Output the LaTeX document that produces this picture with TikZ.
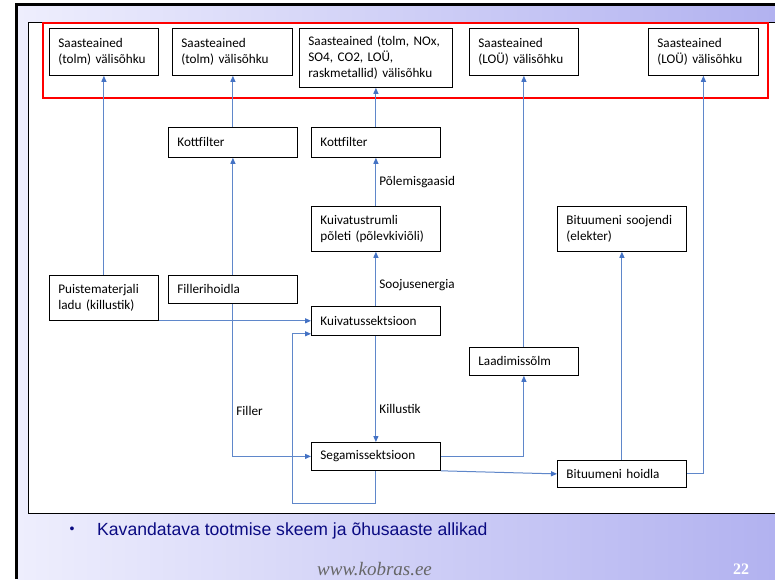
\documentclass[tikz,border=0pt]{standalone}
\usepackage{fontspec}
\setmainfont{Carlito}
\newfontfamily\slidefont{Liberation Sans}
\newfontfamily\webfont{Liberation Serif}
\usepackage{tikz}
\usetikzlibrary{arrows.meta, positioning}

\definecolor{flowblue}{RGB}{95,135,202}
\definecolor{tipblue}{RGB}{68,114,196}
\definecolor{titlenavy}{RGB}{10,10,130}
\definecolor{bgleft}{RGB}{238,238,253}
\definecolor{bgright}{RGB}{178,178,240}

\begin{document}
\begin{tikzpicture}[
		x=1pt, y=-1pt,
		unit/.style={
			rectangle,
			draw=black,
			line width=0.8pt,
			anchor=north west,
			inner xsep=9pt,
			inner ysep=0pt,
			align=left,
			font=\fontsize{13.2}{16}\selectfont
		},
		wide/.style={unit, text width=111pt},
		narrow/.style={unit, text width=91pt},
		flow/.style={
			flowblue,
			line width=1pt,
			-{Triangle[length=6pt, width=5pt, color=tipblue]},
		},
		flowtext/.style={
			right,
			inner sep=3pt,
			text=black,
			font=\fontsize{13.2}{16}\selectfont
		}
	]
	
	\useasboundingbox (0,0) rectangle (775,579);
	\fill[white] (0,0) rectangle (775,579);
	\shade[left color=bgleft, right color=bgright] (17,5) rectangle (775,579);
	\draw[line width=2.5pt] (16.5,579) -- (16.5,4.5) -- (775,4.5);
	\draw[fill=white, line width=0.7pt] (28,22) rectangle (777,513);
	\draw[red, line width=2pt] (43,23) rectangle (768,98);
	
	\node[narrow, minimum height=47pt] (src1) at (49,28) {Saasteained\\(tolm) välisõhku};
	\node[unit, text width=102pt, minimum height=47pt] (src2) at (172,28) {Saasteained\\(tolm) välisõhku};
	\node[unit, text width=135pt, minimum height=59pt] (src3) at (299,28) {Saasteained (tolm, NOx,\\SO4, CO2, LOÜ,\\raskmetallid) välisõhku};
	\node[narrow, minimum height=47pt] (src4) at (469,28) {Saasteained\\(LOÜ) välisõhku};
	\node[unit, text width=92pt, minimum height=47pt] (src5) at (648,28) {Saasteained\\(LOÜ) välisõhku};
	
	\node[wide, minimum height=30pt] (kott1) at (168,127) {Kottfilter};
	\node[wide, minimum height=30pt] (kott2) at (311,127) {Kottfilter};
	\node[wide, minimum height=45pt] (poleti) at (311,206) {Kuivatustrumli\\põleti (põlevkiviõli)};
	\node[wide, minimum height=45pt] (soojendi) at (557,206) {Bituumeni soojendi\\(elekter)};
	\node[narrow, minimum height=45pt] (puiste) at (49,275) {Puistematerjali\\ladu (killustik)};
	\node[wide, minimum height=28pt] (filler) at (168,275) {Fillerihoidla};
	\node[wide, minimum height=29pt] (kuiv) at (311,306) {Kuivatussektsioon};
	\node[narrow, minimum height=28pt] (laadimis) at (469,347) {Laadimissõlm};
	\node[wide, minimum height=28pt] (segamis) at (311,442) {Segamissektsioon};
	\node[wide, minimum height=27pt] (hoidla) at (557,460) {Bituumeni hoidla};
	
	\coordinate (loopbase) at (292,503);
	
	\draw[flow] (puiste.north) -- (puiste.north |- src1.south);
	\draw[flow] (filler.north) -- (kott1.south);
	\draw[flow] (kott1.north) -- (kott1.north |- src2.south);
	\draw[flow] (kott2.north) -- (src3.south);
	\draw[flow] (poleti.north) -- node[flowtext, midway] {Põlemisgaasid} (kott2.south);
	\draw[flow] (kuiv.north) -- node[flowtext, pos=0.38] {Soojusenergia} (poleti.south);
	\draw[flow] (puiste.south east) -- (puiste.south east -| kuiv.west);
	\draw[flow] (kuiv.south) -- node[flowtext, pos=0.69] {Killustik} (segamis.north);
	\draw[flow] (filler.south) |- node[flowtext, pos=0.35] {Filler} (segamis.west);
	\draw[flow] (segamis.south) |- (loopbase) |- ([yshift=2pt]kuiv.south west);
	\draw[flow] (segamis.east) -| (laadimis.south);
	\draw[flow] (laadimis.north) -- (src4.south);
	\draw[flow] (segamis.south east) -- (hoidla.west);
	\draw[flow] (hoidla.north) -- (soojendi.south);
	\draw[flow] (hoidla.east) -| (src5.south);
	
	\node[text=titlenavy, font=\slidefont\fontsize{14}{16}\selectfont] (bullet) at (72,530) {\textbullet};
	\node[anchor=base west, inner sep=0pt, text=titlenavy, font=\slidefont\fontsize{17.6}{20}\selectfont] (caption) at (97,535) {Kavandatava tootmise skeem ja õhusaaste allikad};
	\node[anchor=base west, inner sep=0pt, text=black!60, font=\webfont\itshape\fontsize{19}{21}\selectfont] (web) at (317,575) {www.kobras.ee};
	\node[anchor=base west, inner sep=0pt, text=white, font=\webfont\bfseries\fontsize{16}{18}\selectfont] (pagenum) at (733,574) {22};
	
\end{tikzpicture}
\end{document}
